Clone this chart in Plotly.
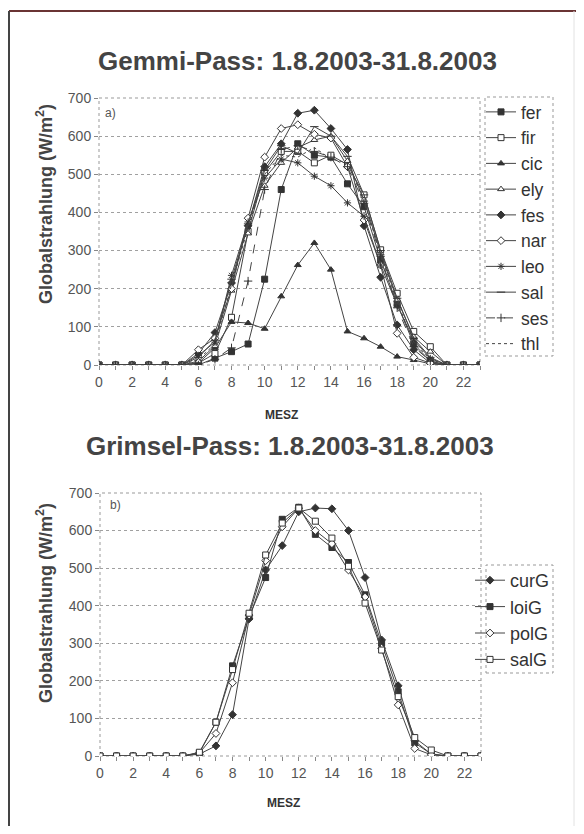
import plotly.graph_objects as go

# Figure is sized so that, with the page's default 8px body margin, it fits the
# 584x834 window exactly (no scrollbars). Layout positions below are given in
# window pixels and converted with px()/py().
PAGE_W, PAGE_H = 584, 834
OFF = 8
W, H = PAGE_W - 2 * OFF, PAGE_H - 2 * OFF

hours = list(range(24))
xtick_major = list(range(0, 24, 2))
yticks = [0, 100, 200, 300, 400, 500, 600, 700]

# --- Gemmi-Pass (a) ---
fer = [0, 0, 0, 0, 0, 0, 0, 18, 35, 55, 225, 460, 580, 550, 545, 475, 415, 275, 160, 55, 10, 0, 0, 0]
fir = [0, 0, 0, 0, 0, 0, 5, 30, 125, 350, 505, 560, 560, 530, 550, 525, 446, 302, 188, 88, 48, 0, 0, 0]
cic = [0, 0, 0, 0, 0, 0, 5, 45, 113, 110, 95, 180, 262, 320, 250, 88, 70, 48, 22, 13, 3, 0, 0, 0]
ely = [0, 0, 0, 0, 0, 0, 10, 50, 195, 345, 470, 530, 570, 590, 600, 535, 433, 293, 171, 74, 35, 0, 0, 0]
fes = [0, 0, 0, 0, 0, 0, 30, 85, 215, 365, 520, 580, 660, 668, 620, 565, 365, 230, 105, 40, 5, 0, 0, 0]
nar = [0, 0, 0, 0, 0, 0, 40, 70, 200, 385, 545, 620, 630, 605, 595, 520, 380, 262, 83, 20, 5, 0, 0, 0]
leo = [0, 0, 0, 0, 0, 0, 25, 60, 235, 375, 490, 540, 530, 495, 470, 425, 390, 262, 157, 66, 17, 0, 0, 0]
sal = [0, 0, 0, 0, 0, 0, 20, 65, 225, 370, 510, 575, 555, 625, 600, 547, 446, 300, 175, 70, 20, 0, 0, 0]
ses = [0, 0, 0, 0, 0, 0, 0, 15, 45, 220, 460, 565, 575, 560, 545, 520, 424, 285, 150, 48, 10, 0, 0, 0]
thl = [0, 0, 0, 0, 0, 0, 15, 55, 210, 360, 500, 550, 545, 570, 540, 530, 430, 290, 165, 60, 15, 0, 0, 0]

# --- Grimsel-Pass (b) ---
curG = [0, 0, 0, 0, 0, 0, 5, 27, 110, 365, 495, 560, 650, 660, 658, 600, 475, 309, 187, 40, 5, 0, 0, 0]
loiG = [0, 0, 0, 0, 0, 0, 8, 90, 240, 370, 475, 630, 662, 590, 555, 515, 429, 300, 171, 35, 5, 0, 0, 0]
polG = [0, 0, 0, 0, 0, 0, 8, 60, 195, 375, 520, 610, 660, 600, 565, 495, 423, 287, 136, 20, 3, 0, 0, 0]
salG = [0, 0, 0, 0, 0, 0, 10, 90, 230, 380, 535, 620, 660, 625, 580, 505, 407, 282, 158, 49, 16, 0, 0, 0]

LC = "#444444"
MC = "#333333"

def px(x):
    return (x - OFF) / W

def py(y):
    return 1 - (y - OFF) / H

top_series = [
    ("fer", fer, "square", MC, "solid"),
    ("fir", fir, "square", "white", "solid"),
    ("cic", cic, "triangle-up", MC, "solid"),
    ("ely", ely, "triangle-up", "white", "solid"),
    ("fes", fes, "diamond", MC, "solid"),
    ("nar", nar, "diamond", "white", "solid"),
    ("leo", leo, "asterisk-open", MC, "solid"),
    ("sal", sal, "line-ew-open", MC, "solid"),
    ("ses", ses, "cross-thin-open", MC, "dash"),
    ("thl", thl, None, MC, "dot"),
]
bot_series = [
    ("curG", curG, "diamond", MC, "solid"),
    ("loiG", loiG, "square", MC, "solid"),
    ("polG", polG, "diamond", "white", "solid"),
    ("salG", salG, "square", "white", "solid"),
]

fig = go.Figure()

for name, vals, sym, fill, dash in top_series:
    mode = "lines+markers" if sym else "lines"
    fig.add_trace(go.Scatter(
        x=hours, y=vals, name=name, mode=mode, xaxis="x", yaxis="y",
        line=dict(color=LC, width=1, dash=dash),
        marker=dict(symbol=sym or "circle", size=6, color=fill,
                    line=dict(color=MC, width=1)),
        legend="legend",
    ))

for name, vals, sym, fill, dash in bot_series:
    fig.add_trace(go.Scatter(
        x=hours, y=vals, name=name, mode="lines+markers", xaxis="x2", yaxis="y2",
        line=dict(color=LC, width=1, dash=dash),
        marker=dict(symbol=sym, size=6, color=fill,
                    line=dict(color=MC, width=1)),
        legend="legend2",
    ))

# plot area geometry (window pixels)
A = dict(x0=99, x1=480, y0=98, y1=365)
B = dict(x0=100, x1=481, y0=493, y1=756)

tickfont = dict(family="Arial, Liberation Sans", size=14, color="#555555")

def xaxis(dom, anchor):
    return dict(domain=[px(dom["x0"]), px(dom["x1"])], anchor=anchor,
                range=[0, 23], tickvals=xtick_major,
                ticks="outside", ticklen=4, tickcolor="#888888",
                minor=dict(dtick=1, tick0=0, ticks="outside", ticklen=4,
                           tickcolor="#888888", showgrid=False),
                showgrid=False, zeroline=False, showline=False,
                tickfont=tickfont, automargin=False)

def yaxis(dom, anchor):
    return dict(domain=[py(dom["y1"]), py(dom["y0"])], anchor=anchor,
                range=[0, 700], tickvals=yticks,
                ticks="outside", ticklen=4, tickcolor="#888888",
                showgrid=True, gridcolor="#a0a0a0", griddash="dot", gridwidth=1,
                zeroline=False, showline=False, tickfont=tickfont, automargin=False)

shapes = []
for d in (A, B):
    shapes.append(dict(type="rect", xref="paper", yref="paper",
                       x0=px(d["x0"]), x1=px(d["x1"]), y0=py(d["y1"]), y1=py(d["y0"]),
                       line=dict(color="#999999", width=1, dash="dot"), layer="below"))
# legend boxes
shapes.append(dict(type="rect", xref="paper", yref="paper",
                   x0=px(485), x1=px(553), y0=py(356), y1=py(97),
                   line=dict(color="#999999", width=1, dash="dot")))
shapes.append(dict(type="rect", xref="paper", yref="paper",
                   x0=px(486), x1=px(553), y0=py(673), y1=py(565),
                   line=dict(color="#999999", width=1, dash="dot")))
# outer frame
shapes.append(dict(type="line", xref="paper", yref="paper",
                   x0=px(9), x1=1, y0=py(11), y1=py(11),
                   line=dict(color="#6a3434", width=2)))
shapes.append(dict(type="line", xref="paper", yref="paper",
                   x0=px(9), x1=px(9), y0=py(11), y1=0,
                   line=dict(color="#444444", width=2)))
shapes.append(dict(type="line", xref="paper", yref="paper",
                   x0=px(574), x1=px(574), y0=py(11), y1=0,
                   line=dict(color="#e2e2e2", width=1)))

titlefont = dict(family="Arial, Liberation Sans", size=26, color="#444444")
ytfont = dict(family="Arial, Liberation Sans", size=18, color="#444444")
xtfont = dict(family="Arial, Liberation Sans", size=12, color="#333333")

annotations = [
    dict(text="<b>Gemmi-Pass: 1.8.2003-31.8.2003</b>", x=px(297), y=py(61),
         xref="paper", yref="paper", showarrow=False, font=titlefont,
         xanchor="center", yanchor="middle"),
    dict(text="<b>Grimsel-Pass: 1.8.2003-31.8.2003</b>", x=px(290), y=py(446),
         xref="paper", yref="paper", showarrow=False, font=titlefont,
         xanchor="center", yanchor="middle"),
    dict(text="<b>Globalstrahlung (W/m<sup>2</sup>)</b>", x=px(44), y=py(204),
         xref="paper", yref="paper", showarrow=False, font=ytfont, textangle=-90,
         xanchor="center", yanchor="middle"),
    dict(text="<b>Globalstrahlung (W/m<sup>2</sup>)</b>", x=px(44), y=py(603),
         xref="paper", yref="paper", showarrow=False, font=ytfont, textangle=-90,
         xanchor="center", yanchor="middle"),
    dict(text="<b>MESZ</b>", x=px(281), y=py(415), xref="paper", yref="paper",
         showarrow=False, font=xtfont, xanchor="center", yanchor="middle"),
    dict(text="<b>MESZ</b>", x=px(283), y=py(803), xref="paper", yref="paper",
         showarrow=False, font=xtfont, xanchor="center", yanchor="middle"),
    dict(text="a)", x=px(110), y=py(113), xref="paper", yref="paper",
         showarrow=False, font=dict(family="Arial", size=12, color="#555555"),
         xanchor="center", yanchor="middle"),
    dict(text="b)", x=px(115), y=py(505), xref="paper", yref="paper",
         showarrow=False, font=dict(family="Arial", size=12, color="#555555"),
         xanchor="center", yanchor="middle"),
]

legfont = dict(family="Liberation Sans Narrow, Arial Narrow, Arial", size=17.5, color="#333333")

fig.update_layout(
    width=W, height=H, autosize=False,
    margin=dict(l=0, r=0, t=0, b=0),
    paper_bgcolor="white", plot_bgcolor="white",
    xaxis=xaxis(A, "y"), yaxis=yaxis(A, "x"),
    xaxis2=xaxis(B, "y2"), yaxis2=yaxis(B, "x2"),
    shapes=shapes, annotations=annotations,
    legend=dict(x=px(481), y=py(94), xanchor="left", yanchor="top",
                bgcolor="rgba(0,0,0,0)", borderwidth=0, font=legfont,
                tracegroupgap=0),
    legend2=dict(x=px(470), y=py(562), xanchor="left", yanchor="top",
                 bgcolor="rgba(0,0,0,0)", borderwidth=0,
                 font=dict(family="Arial", size=18, color="#333333"),
                 tracegroupgap=0),
    showlegend=True,
)

fig.write_html("out.html")
